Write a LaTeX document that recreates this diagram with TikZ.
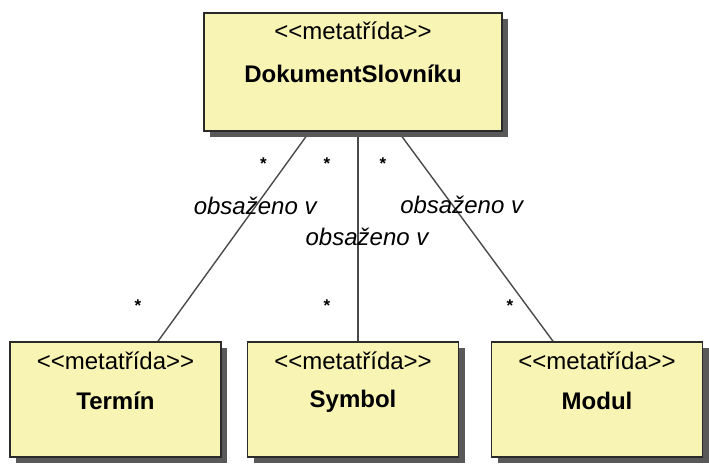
\documentclass[tikz,border=0pt]{standalone}
\usepackage{fontspec}
\setmainfont{Liberation Sans}[Ligatures=TeXOff]
\usetikzlibrary{positioning,shadows,backgrounds}
\definecolor{tridaFill}{HTML}{F8F4B4}
\definecolor{tridaDraw}{HTML}{2A2A2A}
\definecolor{vazbaCol}{HTML}{4A4A4A}

\begin{document}
\begin{tikzpicture}[x=1pt, y=-1pt,
  trida/.style={draw=tridaDraw, fill=tridaFill, line width=1.5pt,
    drop shadow={shadow xshift=6pt, shadow yshift=-6pt, fill=black!65, opacity=1}},
  dole/.style={trida, minimum width=211pt, minimum height=115pt},
  popis/.style={font=\fontsize{24}{28}\selectfont, inner sep=0pt},
  jmeno/.style={font=\fontsize{24}{28}\selectfont\bfseries, inner sep=0pt},
  role/.style={font=\fontsize{24}{28}\selectfont\itshape, inner sep=0pt},
  mult/.style={font=\fontsize{17}{17}\selectfont\bfseries, inner sep=0pt, yshift=-3.6pt},
  vazba/.style={draw=vazbaCol, line width=1.4pt}]
  \useasboundingbox (0,0) rectangle (709,473);

  % tridy
  \node[trida, minimum width=298pt, minimum height=118pt] (dok) at (353,72) {};
  \node[dole] (termin) at (115.5,399.5) {};
  \node[dole] (symbol) at (353,399.5) {};
  \node[dole] (modul) at (597,399.5) {};

  % texty
  \node[popis] (dokS) at ([yshift=-19pt]dok.north) {<<metatřída>>};
  \node[jmeno] (dokN) at ([yshift=-62pt]dok.north) {DokumentSlovníku};
  \node[popis] (terminS) at ([yshift=-20pt]termin.north) {<<metatřída>>};
  \node[jmeno] (terminN) at ([yshift=-60pt]termin.north) {Termín};
  \node[popis] (symbolS) at ([yshift=-20pt]symbol.north) {<<metatřída>>};
  \node[jmeno] (symbolN) at ([yshift=-60pt]symbol.north) {Symbol};
  \node[popis] (modulS) at ([yshift=-20pt]modul.north) {<<metatřída>>};
  \node[jmeno] (modulN) at ([yshift=-60pt]modul.north) {Modul};

  % vazby
  \begin{scope}[on background layer]
    \draw[vazba] ([xshift=-43.5pt]dok.south) -- ([xshift=42.5pt]termin.north)
      node[mult, pos=0.133, xshift=-26pt] (m1) {*}
      node[role, pos=0.352, xshift=-1pt] (r1) {obsaženo v}
      node[mult, pos=0.815, xshift=-48pt] (m2) {*};
    \draw[vazba] ([xshift=5pt]dok.south) -- ([xshift=5pt]symbol.north)
      node[mult, pos=0.133, xshift=-31pt] (m3) {*}
      node[role, pos=0.502, xshift=9pt] (r2) {obsaženo v}
      node[mult, pos=0.815, xshift=-31pt] (m4) {*};
    \draw[vazba] ([xshift=45.4pt]dok.south) -- ([xshift=-44pt]modul.north)
      node[mult, pos=0.133, xshift=-36pt] (m5) {*}
      node[role, pos=0.351, xshift=9pt] (r3) {obsaženo v}
      node[mult, pos=0.815, xshift=-14.5pt] (m6) {*};
  \end{scope}
\end{tikzpicture}
\end{document}
